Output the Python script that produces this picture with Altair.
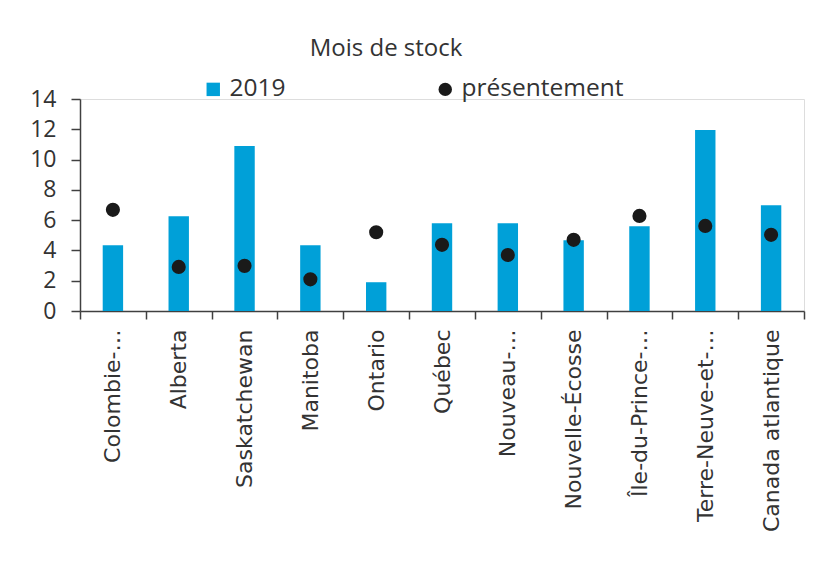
import altair as alt
import pandas as pd

provinces = ["Colombie-…", "Alberta", "Saskatchewan", "Manitoba", "Ontario", "Québec",
             "Nouveau-…", "Nouvelle-Écosse", "Île-du-Prince-…", "Terre-Neuve-et-…",
             "Canada atlantique"]
val_2019 = [4.35, 6.26, 10.89, 4.34, 1.90, 5.80, 5.80, 4.67, 5.60, 11.95, 6.99]
val_now = [6.68, 2.91, 2.98, 2.09, 5.20, 4.37, 3.70, 4.70, 6.28, 5.62, 5.03]
series = ["2019", "présentement"]

rows = []
for p, a, b in zip(provinces, val_2019, val_now):
    rows.append({"prov": p, "serie": series[0], "v": a})
    rows.append({"prov": p, "serie": series[1], "v": b})
df = pd.DataFrame(rows)

FONT = "Open Sans"
XFONT = "DejaVu Sans"
TXT = "#333333"
AX = "#404040"

xenc = alt.X("prov:N", sort=provinces, title=None,
             scale=alt.Scale(paddingInner=0, paddingOuter=0),
             axis=alt.Axis(labelAngle=270, tickBand="extent",
                           labelFontSize=22, labelFont=XFONT, labelColor=TXT,
                           labelPadding=10, tickSize=8, tickColor=AX, domainColor=AX,
                           domainWidth=1.5, tickWidth=1.5, labelLimit=300))
yenc = alt.Y("v:Q", title=None,
             scale=alt.Scale(domain=[0, 14]),
             axis=alt.Axis(values=[0, 2, 4, 6, 8, 10, 12, 14], grid=False,
                           labelFontSize=23, labelFont=FONT, labelColor=TXT,
                           labelPadding=15, tickSize=9, tickColor=AX, domainColor=AX,
                           domainWidth=1.5, tickWidth=1.5))

leg = alt.Legend(title=None, orient="none", legendX=121, legendY=-22,
                 direction="horizontal", labelFontSize=24.5, labelFont=FONT,
                 labelColor=TXT, symbolSize=180, columnPadding=147,
                 labelOffset=4, symbolStrokeWidth=0, labelLimit=400)
cscale = alt.Scale(domain=series, range=["#00a0d8", "#1a1a1a"])
sscale = alt.Scale(domain=series, range=["square", "circle"])

bars = alt.Chart(df).transform_filter(alt.datum.serie == "2019").mark_bar(
    width=alt.RelativeBandSize(0.31)
).encode(x=xenc, y=yenc, color=alt.Color("serie:N", scale=cscale, legend=leg))

pts = alt.Chart(df).transform_filter(alt.datum.serie == "présentement").mark_point(
    filled=True, size=200, opacity=1
).encode(x=xenc, y=yenc,
         color=alt.Color("serie:N", scale=cscale, legend=leg),
         shape=alt.Shape("serie:N", scale=sscale, legend=leg))

chart = alt.layer(bars, pts).properties(
    width=724, height=212,
    title=alt.TitleParams("Mois de stock", anchor="start", dx=280, offset=16,
                          fontSize=24, font=FONT, fontWeight="normal", color=TXT),
    autosize=alt.AutoSizeParams(type="none"),
    padding={"left": 72, "top": 91, "right": 28, "bottom": 261},
).configure_view(stroke=None).configure(background="white")

chart.save("out.html", embed_options={"renderer": "svg", "actions": False})
